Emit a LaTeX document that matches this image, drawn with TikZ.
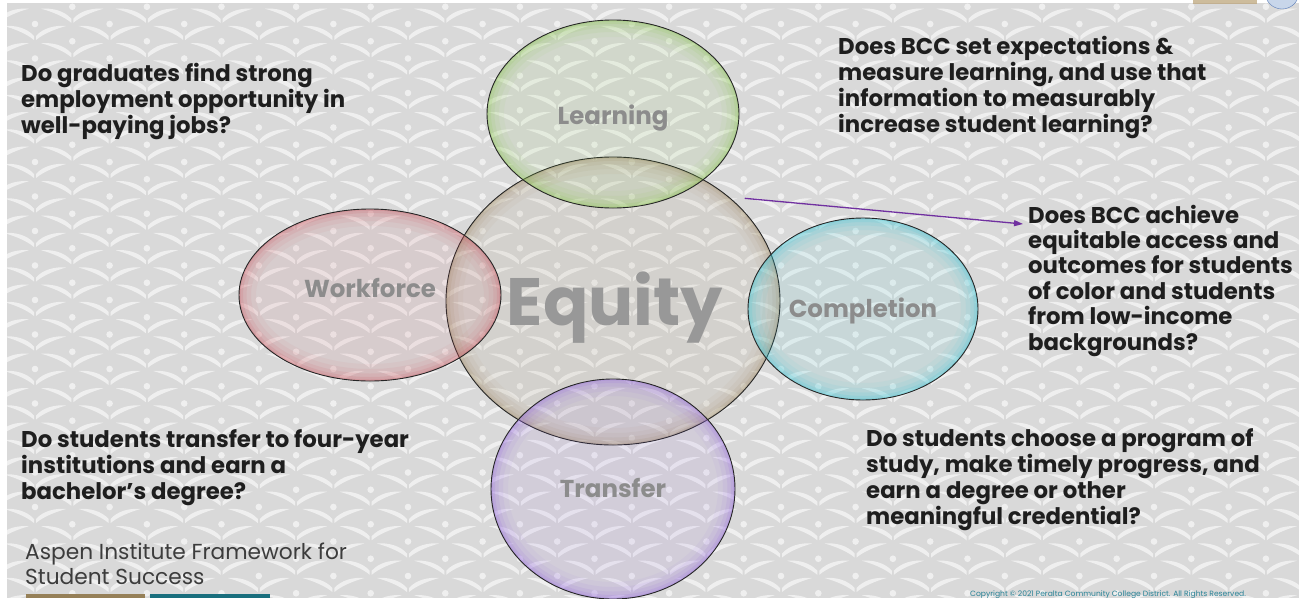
\documentclass[tikz,border=0pt]{standalone}
\usepackage{fontspec}
\setmainfont{Poppins}
\usetikzlibrary{shapes.geometric,arrows.meta,calc}

\definecolor{bggray}{RGB}{217,217,217}
\definecolor{qtext}{RGB}{30,30,30}
\definecolor{labelgray}{RGB}{140,140,140}
\definecolor{equitygray}{RGB}{152,152,152}
\definecolor{aspengray}{RGB}{60,60,60}
\definecolor{greenrim}{RGB}{140,200,80}
\definecolor{tanrim}{RGB}{160,140,100}
\definecolor{redrim}{RGB}{205,90,100}
\definecolor{cyanrim}{RGB}{60,200,215}
\definecolor{purplerim}{RGB}{150,105,225}
\definecolor{arrowpurple}{RGB}{112,48,160}
\definecolor{barbrown}{RGB}{150,128,88}
\definecolor{barteal}{RGB}{25,110,125}
\definecolor{copyteal}{RGB}{40,130,150}
\definecolor{logotan}{RGB}{185,160,115}
\definecolor{logoblue}{RGB}{90,125,185}
\definecolor{logofill}{RGB}{200,214,234}

\tikzset{
  motif/.style={white, fill opacity=0.6},
  bubble/.style n args={3}{
    ellipse, draw=black!85, line width=0.9pt, inner sep=0pt, outer sep=0pt,
    minimum width=#2pt, minimum height=#3pt,
    fill=#1, fill opacity=0.10,
    path picture={
      \foreach \w/\o in {34/0.06,24/0.08,15/0.11,8/0.15,3/0.2}
        \draw[#1, line width=\w pt, opacity=\o]
          (path picture bounding box.center) ellipse [x radius=#2/2, y radius=#3/2];
    }
  },
  bublabel/.style={font=\bfseries\fontsize{24.5}{28}\selectfont, text=labelgray, inner sep=0pt, anchor=base},
  % multi-line nodes: the base anchor sits on the last line
  question/.style={font=\bfseries\fontsize{22.8}{26}\selectfont, text=qtext, align=left, anchor=base west, inner sep=0pt},
  arrowline/.style={draw=arrowpurple, line width=1.3pt, -{Triangle[length=9pt,width=6pt]}}
}

\begin{document}
\begin{tikzpicture}[x=1pt,y=-1pt]
\useasboundingbox (0,0) rectangle (1299,598);
\fill[white] (0,0) rectangle (1299,598);
\fill[bggray] (7,3) rectangle (1299,598);

% open-book wallpaper
\begin{scope}
  \clip (7,3) rectangle (1299,598);
  \foreach \k in {-1,...,35}{
    \foreach \j in {-1,...,17}{
      \pgfmathsetmacro{\bx}{35+\j*74.6+mod(\k,2)*37.3}
      \pgfmathsetmacro{\by}{24+\k*17.25}
      \begin{scope}[shift={(\bx,\by)}]
        \fill[motif] (0,0) circle (3.3);
        \fill[motif] (-1,12) .. controls (-8,4) and (-20,1) .. (-31,2)
                     .. controls (-20,5) and (-8,10) .. (-1,16) -- cycle;
        \fill[motif] (1,12) .. controls (8,4) and (20,1) .. (31,2)
                     .. controls (20,5) and (8,10) .. (1,16) -- cycle;
      \end{scope}
    }
  }
\end{scope}

% partial logo at the top edge
\fill[logotan, opacity=0.7] (1193,0) rectangle (1257,4);
\draw[logoblue, fill=logofill] (1282,-8) circle (17);

% the five bubbles
\node[bubble={tanrim}{334}{288}] (equity) at (613,301) {};
\node[bubble={greenrim}{252}{188}] (learning) at (613,114) {};
\node[bubble={redrim}{262}{172}] (workforce) at (370,295) {};
\node[bubble={cyanrim}{230}{182}] (completion) at (863,309) {};
\node[bubble={purplerim}{244}{220}] (transfer) at (613,489) {};

% bubble labels
\node[bublabel] (learninglabel) at (613,124) {Learning};
\node[bublabel] (workforcelabel) at (370,297) {Workforce};
\node[bublabel] (completionlabel) at (863,317) {Completion};
\node[bublabel] (transferlabel) at (613,497) {Transfer};
\node[font=\bfseries\fontsize{67}{70}\selectfont, text=equitygray, inner sep=0pt, anchor=base] (equitylabel) at (615,325) {Equity};

% questions
\node[question] (q1) at (21,133) {Do graduates find strong\\employment opportunity in\\well-paying jobs?};
\node[question] (q2) at (838,132) {Does BCC set expectations \&\\measure learning, and use that\\information to measurably\\increase student learning?};
\node[question, font=\bfseries\fontsize{22.8}{25.4}\selectfont] (q3) at (1028,350) {Does BCC achieve\\equitable access and\\outcomes for students\\of color and students\\from low-income\\backgrounds?};
\node[question] (q4) at (21,499) {Do students transfer to four-year\\institutions and earn a\\bachelor’s degree?};
\node[question] (q5) at (866,524) {Do students choose a program of\\study, make timely progress, and\\earn a degree or other\\meaningful credential?};

% pointer from Equity to the equity question
\coordinate (qtip) at (1023,224);
\draw[arrowline] ([shift={(8,-6)}]equity.38) -- (qtip);

% footer
\node[font=\fontsize{21.7}{25}\selectfont, text=aspengray, align=left, anchor=base west, inner sep=0pt] (aspen) at (25,584) {Aspen Institute Framework for\\Student Success};
\fill[barbrown] (26,594) rectangle (145,598);
\fill[barteal] (150,594) rectangle (270,598);
\node[font=\fontsize{7.6}{9}\selectfont, text=copyteal, anchor=base west, inner sep=0pt] (copyright) at (970,596) {Copyright © 2021 Peralta Community College District. All Rights Reserved.};
\end{tikzpicture}
\end{document}
